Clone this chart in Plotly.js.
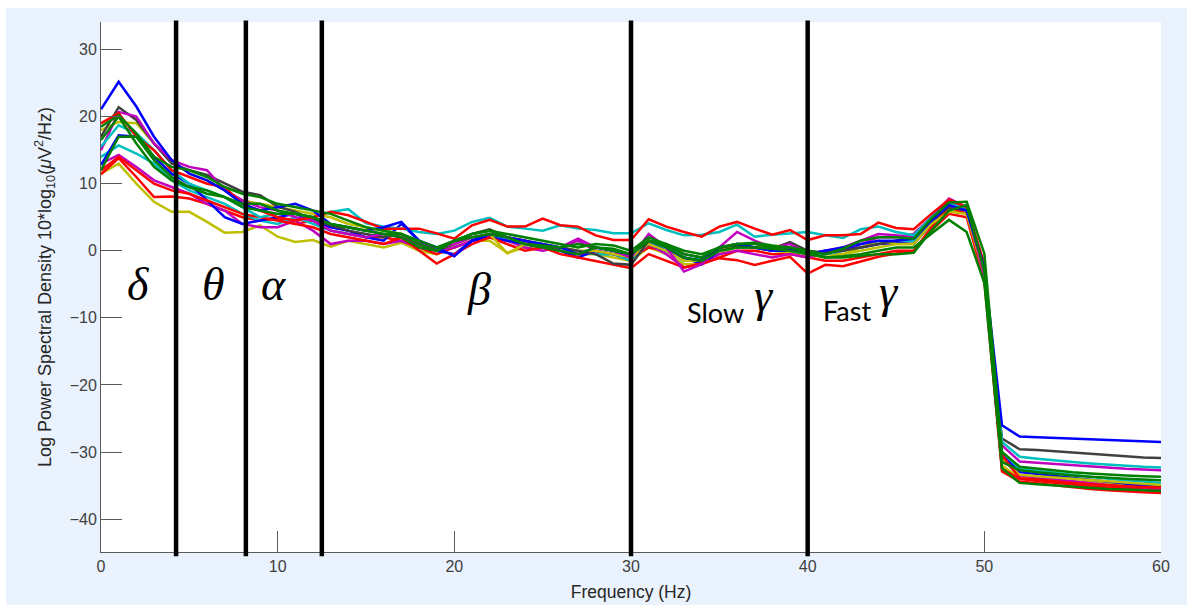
<!DOCTYPE html>
<html>
<head>
<meta charset="utf-8">
<script src="https://cdn.plot.ly/plotly-3.0.1.min.js"></script>
<style>
  html, body { margin: 0; padding: 0; background: #ffffff; width: 1187px; height: 605px; overflow: hidden; }
  #chart { position: absolute; left: 6px; top: 8px; width: 1181px; height: 597px; }
</style>
</head>
<body>
<div id="chart"></div>
<script>
// Frequency bins (Hz)
const freqs = [0,1,2,3,4,5,6,7,8,9,10,11,12,13,14,15,16,17,18,19,20,21,22,23,24,25,26,27,28,29,30,
               31,32,33,34,35,36,37,38,39,40,41,42,43,44,45,46,47,48,49,50,51,52,53,54,55,56,57,58,59,60];

// Channel spectra (dB)
const chBlue1 = [21.1,25.2,21.5,17.0,13.5,11.5,10.5,9.0,7.0,6.0,6.5,7.0,6.0,4.0,
  3.5,3.0,3.5,4.3,1.5,0.5,-0.8,1.5,2.5,2.0,1.5,1.0,0.5,-0.5,0.5,0.0,-0.5,
  1.5,0.5,-1.0,-1.5,0.5,1.0,0.5,0.0,0.3,-0.5,0.0,0.5,1.0,1.5,1.5,1.8,4.5,
  6.8,6.0,-2.5,
  -26.0,-27.7,-27.8,-27.9,-28.0,-28.1,-28.2,-28.3,-28.4,-28.5];
const chGray = [17.0,21.4,19.5,16.0,13.0,12.0,11.3,10.0,8.8,8.3,6.6,5.8,4.6,3.8,
  3.0,2.5,2.0,2.5,1.0,0.0,1.0,2.5,3.2,2.0,1.5,1.0,0.5,0.0,-0.5,-1.9,-2.1,
  1.5,1.0,-0.5,-1.0,0.5,0.8,0.5,0.3,1.3,0.0,-0.3,0.0,0.5,1.0,1.5,2.0,4.5,
  6.5,6.0,-3.0,
  -28.0,-29.6,-29.7,-29.9,-30.1,-30.3,-30.5,-30.7,-30.8,-30.9];
const chCyan1 = [15.5,18.7,17.5,15.0,12.0,10.0,9.0,8.0,6.5,5.0,5.5,5.5,5.0,5.8,
  6.2,4.1,3.6,3.3,2.8,2.5,3.0,4.3,4.9,3.6,3.3,3.0,3.8,3.3,3.1,2.6,2.6,
  4.1,3.1,2.3,2.4,2.8,3.9,2.1,2.4,2.6,2.8,2.3,1.9,3.2,3.6,2.8,2.3,5.0,
  7.0,6.3,-2.0,
  -28.5,-30.7,-31.0,-31.3,-31.5,-31.7,-31.9,-32.1,-32.2,-32.3];
const chMagenta1 = [15.0,20.7,20.0,16.0,13.5,12.5,12.0,9.0,7.5,6.5,6.0,5.0,4.5,3.0,
  2.5,2.0,2.5,2.0,1.0,0.5,1.0,2.0,2.5,2.0,1.5,0.5,0.5,1.8,0.5,0.0,-1.0,
  2.5,0.5,-3.1,-2.0,0.5,2.8,1.5,0.5,1.0,-0.5,0.0,0.5,1.5,2.5,2.3,2.0,5.0,
  7.8,6.5,-3.5,
  -29.0,-31.4,-31.6,-31.8,-32.0,-32.2,-32.4,-32.5,-32.6,-32.7];
const chGreen1 = [18.5,20.2,17.5,14.0,12.5,12.0,11.0,9.5,8.5,8.0,7.0,6.5,6.0,5.5,
  4.5,3.5,3.0,2.5,1.5,0.5,1.5,2.5,3.0,2.5,2.0,1.5,1.0,0.5,1.0,0.8,0.0,
  2.0,1.0,0.0,-0.5,0.5,1.0,1.2,0.8,0.5,0.0,-0.5,0.3,1.5,2.0,2.0,1.8,4.8,
  7.2,7.3,-0.4,
  -30.0,-32.2,-32.5,-32.8,-33.0,-33.2,-33.4,-33.5,-33.6,-33.7];
const chGreen2 = [12.0,17.0,17.0,13.5,11.0,9.5,8.5,8.0,7.0,7.0,6.0,5.5,5.0,4.0,
  3.5,3.0,2.5,2.0,0.5,0.0,1.5,2.0,2.5,2.0,1.0,0.5,0.0,-0.5,0.5,0.3,-0.5,
  1.5,0.5,-1.0,-1.5,0.0,0.5,0.5,0.3,0.0,-0.5,-1.0,-1.0,-0.8,-0.5,-0.5,-0.3,3.0,
  6.0,6.8,-3.0,
  -31.5,-32.7,-33.0,-33.3,-33.5,-33.7,-33.9,-34.0,-34.1,-34.2];
const chYellow1 = [18.0,19.2,19.0,16.0,13.5,11.5,10.5,9.0,7.5,7.0,6.5,6.0,5.5,5.0,
  4.0,3.5,3.0,2.5,1.0,0.0,1.0,2.0,2.5,-0.4,1.0,1.0,0.5,0.0,0.0,-0.5,-1.0,
  1.0,0.0,-1.5,-1.5,0.0,0.8,0.5,0.5,0.0,-0.5,-1.0,-0.5,0.5,1.5,1.0,1.0,4.0,
  5.8,5.5,-3.5,
  -31.0,-33.4,-33.6,-33.8,-34.0,-34.2,-34.4,-34.6,-34.8,-34.9];
const chBlue2 = [12.8,17.2,17.0,14.0,11.5,10.0,7.5,5.0,4.0,4.5,5.0,5.5,4.5,3.5,
  3.0,2.0,1.5,4.0,1.5,0.0,-0.5,1.5,2.0,1.5,1.0,0.5,0.0,-1.0,0.0,-0.5,-1.0,
  1.0,0.0,-1.0,-2.0,0.0,1.0,0.5,0.0,0.0,-0.5,0.0,0.3,0.5,1.0,1.2,1.0,4.0,
  6.5,6.0,-3.0,
  -30.5,-33.0,-33.3,-33.6,-33.9,-34.2,-34.5,-34.8,-35.0,-35.2];
const chCyan2 = [14.0,15.7,14.5,13.0,10.5,9.0,8.0,7.0,5.5,4.5,4.0,5.0,4.0,3.0,
  2.5,2.0,2.5,2.0,1.0,0.5,1.0,2.0,2.5,1.5,1.0,0.5,0.5,0.0,-0.5,-0.5,-1.5,
  1.5,0.0,-1.5,-1.0,0.0,0.5,0.5,0.0,0.0,-0.5,-0.5,0.0,0.5,1.0,1.5,1.5,4.5,
  6.8,6.2,-3.0,
  -30.0,-32.5,-32.8,-33.2,-33.5,-33.8,-34.0,-34.2,-34.4,-34.6];
const chMagenta2 = [13.0,14.3,12.5,10.5,9.5,8.5,7.0,6.0,4.0,3.5,3.5,4.5,3.0,1.0,
  1.5,1.5,1.0,1.5,0.5,0.0,0.5,1.5,2.0,1.5,0.5,0.0,0.5,1.5,0.0,-0.5,-1.5,
  1.0,-0.5,-2.5,-2.0,-0.5,0.0,-0.5,-1.0,-0.5,-1.0,-0.5,0.0,1.0,2.0,2.0,2.5,5.0,
  7.5,6.0,-4.0,
  -31.0,-33.5,-33.8,-34.1,-34.4,-34.7,-35.0,-35.2,-35.4,-35.6];
const chRed1 = [19.0,20.5,17.0,15.0,12.0,11.0,10.0,9.5,7.0,6.0,5.0,4.5,5.0,5.8,
  5.3,4.3,3.3,3.3,3.3,2.6,1.8,3.8,4.6,3.6,3.6,4.8,3.8,3.6,2.3,1.6,1.6,
  4.7,3.6,2.8,2.1,3.6,4.3,3.3,2.4,3.1,1.6,2.3,2.3,2.5,4.2,3.4,3.2,5.5,
  7.6,6.5,-2.0,
  -30.5,-33.9,-34.1,-34.4,-34.6,-34.8,-35.0,-35.1,-35.2,-35.3];
const chRed2 = [11.4,13.8,11.0,8.0,8.1,7.8,7.0,6.0,5.0,4.5,4.8,4.0,4.5,3.0,
  2.5,2.0,2.0,1.5,0.5,-0.5,0.5,1.5,2.0,1.5,1.0,0.5,0.5,-0.5,0.0,-0.5,-1.0,
  0.5,0.0,-1.0,-2.0,-1.0,0.0,0.0,-0.5,-0.5,-1.0,-1.5,-1.5,-1.0,-0.5,0.0,0.0,3.0,
  5.5,5.0,-4.5,
  -32.9,-34.4,-34.7,-35.0,-35.3,-35.5,-35.7,-35.9,-36.0,-36.1];
const chYellow2 = [11.5,13.0,10.0,7.3,5.8,5.8,4.3,2.7,2.8,3.8,2.1,1.3,1.6,0.6,
  1.5,1.0,0.5,1.2,0.0,-0.5,0.5,1.5,1.5,-0.3,0.5,0.5,0.0,-0.5,-0.5,-1.0,-1.5,
  0.5,-0.5,-2.0,-2.0,-0.5,0.5,0.5,0.0,-0.3,-1.0,-0.5,-0.5,0.0,0.5,1.0,1.0,4.0,
  6.0,5.5,-3.5,
  -32.0,-33.8,-34.0,-34.2,-34.4,-34.5,-34.7,-34.8,-34.9,-35.0];
const chGreen3 = [16.5,20.0,16.0,12.5,10.5,9.5,9.0,8.0,6.5,6.0,5.5,5.5,5.0,4.0,
  3.5,3.0,2.5,2.5,1.0,0.0,1.5,2.5,3.0,2.0,1.0,0.8,0.5,1.0,0.5,0.0,-0.5,
  1.5,0.8,-0.5,-1.0,0.5,1.0,1.0,0.5,0.5,-0.3,-1.0,-0.8,-0.5,0.0,0.5,0.5,2.5,
  4.6,2.8,-4.8,
  -32.4,-34.6,-34.8,-35.0,-35.2,-35.4,-35.5,-35.6,-35.7,-35.8];
const chRed3 = [12.0,14.0,12.0,10.0,9.0,8.5,7.5,6.5,5.5,5.0,4.5,4.0,3.5,2.5,
  2.0,1.5,1.0,2.0,0.0,-1.9,-0.5,1.0,2.0,1.0,0.0,0.5,-0.5,-1.0,-1.5,-2.0,-2.6,
  -0.5,-1.5,-2.5,-1.9,-1.1,-1.4,-2.1,-1.5,-0.9,-3.4,-2.1,-2.3,-1.6,-0.9,-0.4,-0.1,3.5,
  6.5,5.5,-3.5,
  -32.5,-34.0,-34.3,-34.6,-34.9,-35.1,-35.3,-35.5,-35.6,-35.8];

const channels = [chYellow2, chRed2, chMagenta2, chCyan2, chBlue2, chRed3, chYellow1,
                  chGray, chMagenta1, chCyan1, chRed1, chBlue1, chGreen2, chGreen3, chGreen1];
const channelColors = ['#BFBF00','#FF0000','#BF00BF','#00BFBF','#0000FF','#FF0000','#BFBF00',
                       '#404040','#BF00BF','#00BFBF','#FF0000','#0000FF','#008000','#008000','#008000'];

// Band boundaries (Hz) and band labels
const bandEdges = [4.25, 8.2, 12.5, 30, 40];
const bandSymbols = ['δ', 'θ', 'α', 'β', 'γ', 'γ'];
const bandSymbolX = [2.1, 6.35, 9.75, 21.4, 37.55, 44.6];
const bandSymbolY = [-5.0, -5.0, -5.1, -5.8, -6.7, -6.1];
const bandWords = ['Slow', 'Fast'];
const bandWordX = [34.8, 42.2];
const bandWordY = [-9.2, -8.9];

const xTicks = [0, 10, 20, 30, 40, 50, 60];
const yTicks = [-40, -30, -20, -10, 0, 10, 20, 30];

const traces = channels.map((ys, i) => ({
  x: freqs, y: ys, type: 'scatter', mode: 'lines',
  line: { color: channelColors[i], width: 2.5 },
  hoverinfo: 'skip', showlegend: false
}));

const shapes = bandEdges.map(xv => ({
  type: 'line', xref: 'x', yref: 'paper', x0: xv, x1: xv, y0: -0.008, y1: 1.003,
  line: { color: '#000000', width: 4.5 }, layer: 'above'
}));

const annotations = [];
bandSymbols.forEach((s, i) => annotations.push({
  x: bandSymbolX[i], y: bandSymbolY[i], xref: 'x', yref: 'y', text: '<i>' + s + '</i>',
  showarrow: false, font: { family: 'Liberation Serif, serif', size: 46, color: '#000' }
}));
bandWords.forEach((w, i) => annotations.push({
  x: bandWordX[i], y: bandWordY[i], xref: 'x', yref: 'y', text: w,
  showarrow: false, font: { family: 'Lato, Open Sans, sans-serif', size: 27, color: '#000' }
}));

const layout = {
  width: 1181, height: 597,
  margin: { l: 95, r: 26, t: 14, b: 53 },
  paper_bgcolor: '#EAF2FD', plot_bgcolor: '#FFFFFF',
  font: { family: 'Liberation Sans, Arial, sans-serif', size: 16, color: '#404040' },
  xaxis: {
    range: [0, 60], tickvals: xTicks, ticks: 'inside', ticklen: 21, tickcolor: '#5a5a5a',
    showline: true, linecolor: '#5a5a5a', linewidth: 1, showgrid: false, zeroline: false,
    tickfont: { size: 16, color: '#404040' },
    title: { text: 'Frequency (Hz)', font: { size: 17.5, color: '#262626' }, standoff: 11 }
  },
  yaxis: {
    range: [-44.9, 34.1], tickvals: yTicks, ticks: 'inside', ticklen: 21, tickcolor: '#5a5a5a',
    showline: true, linecolor: '#5a5a5a', linewidth: 1, showgrid: false, zeroline: false,
    tickfont: { size: 16, color: '#404040' },
    title: { text: 'Log Power Spectral Density 10*log<sub>10</sub>(<i>μ</i>V<sup>2</sup>/Hz)',
             font: { size: 18, color: '#262626' }, standoff: 13 }
  },
  shapes: shapes,
  annotations: annotations
};

Plotly.newPlot('chart', traces, layout, { displayModeBar: false, staticPlot: true });
</script>
</body>
</html>
